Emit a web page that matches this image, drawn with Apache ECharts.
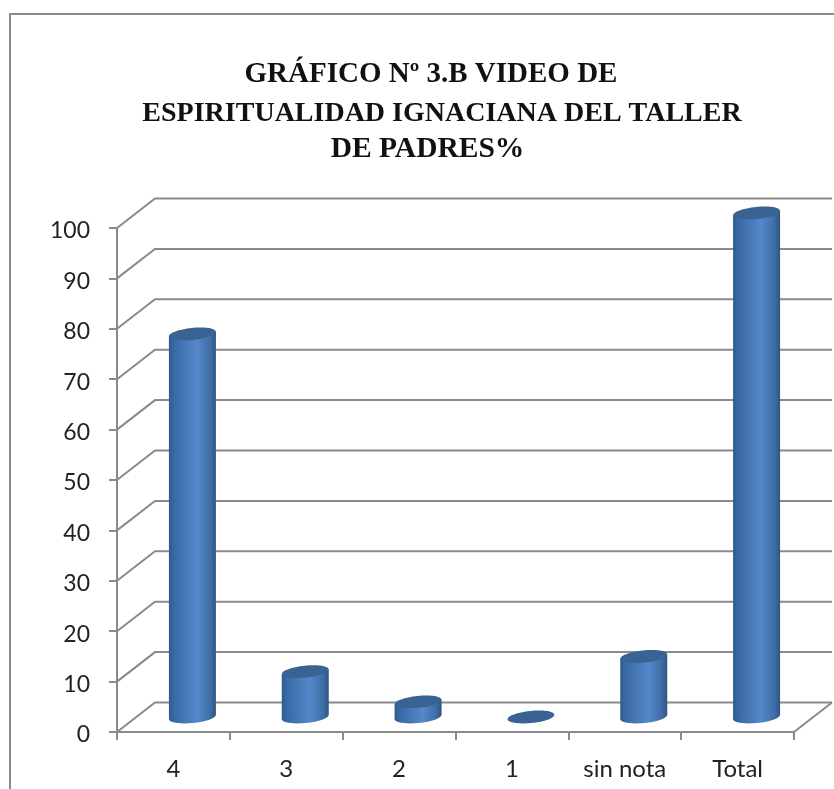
<!DOCTYPE html>
<html><head><meta charset="utf-8">
<style>html,body{margin:0;padding:0;background:#fff}#c{width:834px;height:789px}</style>
<script src="https://cdn.jsdelivr.net/npm/echarts@6/dist/echarts.min.js"></script>
</head><body><div id="c"></div>
<script>
const categories = ['4', '3', '2', '1', 'sin nota', 'Total'];
const values = [76, 9, 3, 0, 12, 100];
const yTicks = [0, 10, 20, 30, 40, 50, 60, 70, 80, 90, 100];
const titleLines = ['GRÁFICO Nº 3.B VIDEO DE', 'ESPIRITUALIDAD IGNACIANA DEL TALLER', 'DE PADRES%'];

const LINE = '#8a8a8a', DEPTH_X = 38, DEPTH_Y = 29.5;
const bodyFill = new echarts.graphic.LinearGradient(0, 0, 1, 0, [
  {offset: 0, color: '#2f5a8e'}, {offset: 0.12, color: '#3a6aa6'},
  {offset: 0.6, color: '#5488cb'}, {offset: 0.88, color: '#3f6da6'}, {offset: 1, color: '#2d5583'}
]);
const chart = echarts.init(document.getElementById('c'), null, {renderer: 'canvas'});

function wall(params, api) {
  const g = params.coordSys, p = api.coord([0, api.value(0)]);
  const x0 = g.x, x1 = g.x + g.width, y = p[1];
  const ls = {stroke: LINE, lineWidth: 2, fill: null};
  const kids = [{type: 'polyline', shape: {points: [[x0, y], [x0 + DEPTH_X, y - DEPTH_Y], [x1 + DEPTH_X, y - DEPTH_Y]]}, style: ls}];
  if (api.value(0) === 0) kids.push({type: 'line', shape: {x1: x1, y1: y, x2: x1 + DEPTH_X, y2: y - DEPTH_Y}, style: ls});
  return {type: 'group', children: kids};
}
function cylinder(params, api) {
  const idx = api.value(0), top = api.coord([idx, api.value(1)]), base = api.coord([idx, 0]);
  const rx = 23.5, ry = 6, rot = 0.1, ox = DEPTH_X / 2, oy = -15, tilt = rx * Math.sin(rot);
  const cx = base[0] + ox, yb = base[1] + oy, yt = top[1] + oy;
  const kids = [];
  if (yb - yt > 0.5) {
    kids.push({type: 'ellipse', shape: {cx, cy: yb, rx, ry}, originX: cx, originY: yb, rotation: rot, style: {fill: bodyFill}});
    kids.push({type: 'polygon', shape: {points: [[cx - rx, yt + tilt], [cx + rx, yt - tilt], [cx + rx, yb - tilt], [cx - rx, yb + tilt]]}, style: {fill: bodyFill}});
  }
  kids.push({type: 'ellipse', shape: {cx, cy: yt, rx, ry}, originX: cx, originY: yt, rotation: rot, style: {fill: '#386392'}});
  return {type: 'group', children: kids};
}

chart.setOption({
  animation: false,
  backgroundColor: '#fff',
  title: [70, 109, 144].map((y, i) => ({
    text: titleLines[i], left: [426, 437, 422.5][i], top: y, textAlign: 'center', textVerticalAlign: 'middle',
    textStyle: {fontFamily: 'Liberation Serif', fontWeight: 'bold', fontSize: [29, 28, 29.5][i], color: '#111'}
  })),
  grid: {left: 117, right: 40, top: 228, bottom: 57},
  xAxis: {type: 'category', data: categories,
    axisLine: {lineStyle: {color: LINE, width: 2}},
    axisTick: {show: true, length: 8, lineStyle: {color: LINE, width: 2}},
    axisLabel: {margin: 25, fontFamily: 'Lato', fontSize: 24, color: '#222'},
    splitLine: {show: false}},
  yAxis: {type: 'value', min: 0, max: 100, interval: 10,
    axisLine: {show: true, lineStyle: {color: LINE, width: 2}},
    axisTick: {show: true, length: 8, lineStyle: {color: LINE, width: 2}},
    axisLabel: {margin: 27, formatter: '{v|{value}}',
      rich: {v: {padding: [6, 0, 0, 0], fontFamily: 'Lato', fontSize: 23, color: '#222'}}},
    splitLine: {show: false}},
  graphic: [
    {type: 'polyline', silent: true, shape: {points: [[10, 789], [10, 14], [834, 14]]}, style: {stroke: LINE, lineWidth: 2, fill: null}}
  ],
  series: [
    {type: 'custom', coordinateSystem: 'cartesian2d', silent: true, z: 1, data: yTicks.map(v => [v]), encode: {y: 0}, renderItem: wall},
    {type: 'custom', coordinateSystem: 'cartesian2d', silent: true, z: 3, data: values.map((v, i) => [i, v]), encode: {x: 0, y: 1}, renderItem: cylinder}
  ]
});
</script></body></html>
